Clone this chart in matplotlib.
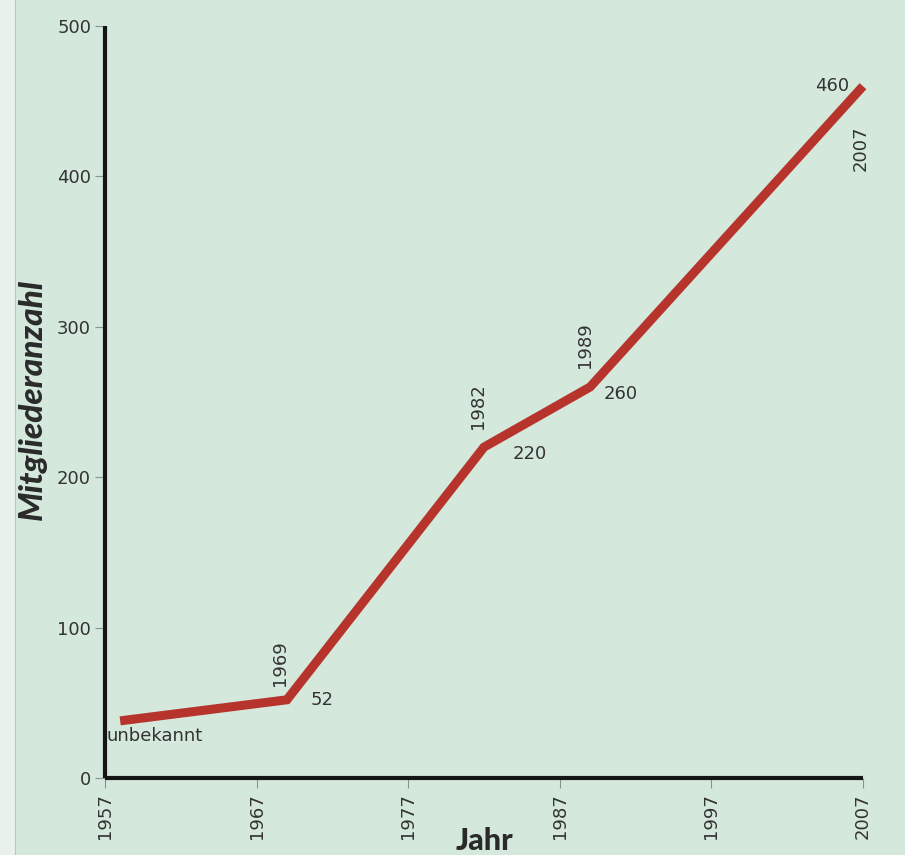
import matplotlib.pyplot as plt
from matplotlib.patches import Rectangle

# Mitgliederentwicklung
jahre = [1958, 1969, 1982, 1989, 2007]
mitglieder = [38, 52, 220, 260, 460]
jahr_labels = ['', '1969', '1982', '1989', '2007']
wert_labels = ['unbekannt', '52', '220', '260', '460']

x_ticks = [1957, 1967, 1977, 1987, 1997, 2007]
y_ticks = [0, 100, 200, 300, 400, 500]

bg = '#d4e8dc'
red = '#b7342c'
txt = '#333333'

plt.rcParams['font.family'] = ['DejaVu Sans']

fig = plt.figure(figsize=(9.05, 8.55), dpi=100, facecolor=bg)
# heller Rand links
fig.patches.append(Rectangle((0, 0), 15 / 905, 1, transform=fig.transFigure,
                             facecolor='#e9f1ec', edgecolor='none', zorder=0))
fig.lines.append(plt.Line2D([15 / 905, 15 / 905], [0, 1], transform=fig.transFigure,
                            color='#b9c6bf', lw=0.8))

ax = fig.add_axes([105 / 905, 77 / 855, 758 / 905, 752 / 855])
ax.set_facecolor('none')

ax.plot(jahre, mitglieder, color=red, lw=6.5, solid_capstyle='butt',
        solid_joinstyle='miter', clip_on=False, zorder=3)

ax.set_xlim(1957, 2007)
ax.set_ylim(0, 500)
ax.set_xticks(x_ticks)
ax.set_yticks(y_ticks)
ax.set_xticklabels([str(x) for x in x_ticks], rotation=90)
ax.tick_params(axis='both', colors='#8a948f', labelcolor=txt, labelsize=13,
               length=7, width=0.8)
ax.tick_params(axis='x', pad=4)
ax.tick_params(axis='y', pad=3)

for s in ['top', 'right']:
    ax.spines[s].set_visible(False)
for s in ['left', 'bottom']:
    ax.spines[s].set_linewidth(3)
    ax.spines[s].set_color('#151515')
    ax.spines[s].set_capstyle('butt')

# Beschriftung der Punkte (Jahr senkrecht, Wert daneben)
offs_jahr = {'1969': (-5, 10, 'center', 'bottom'),
             '1982': (-4, 13, 'center', 'bottom'),
             '1989': (-4, 14, 'center', 'bottom'),
             '2007': (-2, -28, 'center', 'top')}
offs_wert = {'unbekannt': (25, -11, 'center', 'center'),
             '52': (25, 0, 'center', 'center'),
             '220': (33, -5, 'center', 'center'),
             '260': (22, -5, 'center', 'center'),
             '460': (-22, 0, 'center', 'center')}

for x, y, jl, wl in zip(jahre, mitglieder, jahr_labels, wert_labels):
    if jl:
        dx, dy, ha, va = offs_jahr[jl]
        ax.annotate(jl, (x, y), xytext=(dx, dy), textcoords='offset points',
                    rotation=90, ha=ha, va=va, fontsize=13, color=txt,
                    annotation_clip=False)
    dx, dy, ha, va = offs_wert[wl]
    ax.annotate(wl, (x, y), xytext=(dx, dy), textcoords='offset points',
                ha=ha, va=va, fontsize=13, color=txt, annotation_clip=False)

fig.text(32 / 905, 1 - 400 / 855, 'Mitgliederanzahl', rotation=90,
         ha='center', va='center', fontsize=24, fontweight='black',
         style='italic', family=['Lato', 'DejaVu Sans'], color='#2a2a2a')
fig.text(484 / 905, 1 - 841 / 855, 'Jahr', ha='center', va='center',
         fontsize=22, fontweight='black', family=['Lato', 'DejaVu Sans'],
         color='#2a2a2a')

fig.savefig('out.png', dpi=100, facecolor=bg)
